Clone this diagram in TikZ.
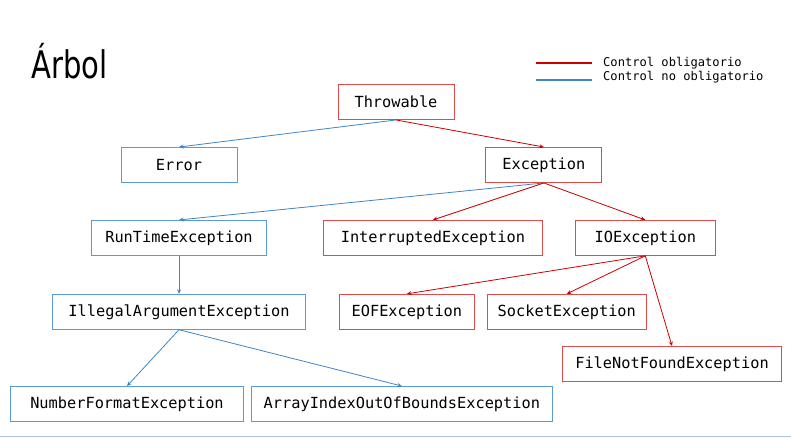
\documentclass[tikz,border=0pt]{standalone}
\usepackage{fontspec}
\usepackage{graphicx}
\setmonofont{DejaVu Sans Mono}
\newfontfamily\titlefont{DejaVu Sans Condensed}
\usepackage{tikz}
\usetikzlibrary{positioning, arrows.meta}
\definecolor{ctrlred}{HTML}{CC0000}
\definecolor{boxred}{HTML}{DD4B4B}
\definecolor{ctrlblue}{HTML}{3D85C6}
\definecolor{boxblue}{HTML}{5B9BD5}
\definecolor{slideline}{HTML}{A9C4E2}

\tikzset{
  classbox/.style={rectangle, minimum height=35pt, inner sep=0pt, line width=0.9pt,
    font=\ttfamily\fontsize{15.3}{18}\selectfont},
  checked/.style={classbox, draw=boxred},
  unchecked/.style={classbox, draw=boxblue},
  redarrow/.style={-{Stealth[length=4.5pt, width=4pt]}, ctrlred, line width=0.8pt},
  bluearrow/.style={-{Stealth[length=4.5pt, width=4pt]}, ctrlblue, line width=0.8pt},
  legendtext/.style={anchor=west, inner sep=0pt, font=\ttfamily\fontsize{12.1}{14}\selectfont}
}

\begin{document}
\begin{tikzpicture}[x=1pt, y=-1pt]
  \useasboundingbox (0,0) rectangle (791,438);
  \node[anchor=base west, inner sep=0pt] (title) at (31,79)
    {\titlefont\fontsize{38}{40}\selectfont\scalebox{0.85}[1]{Árbol}};
  % legend
  \node[legendtext] (legred) at (603,63) {Control obligatorio};
  \node[legendtext] (legblue) at (603,77) {Control no obligatorio};
  \coordinate (redA) at (536,63);
  \coordinate (redB) at (592,63);
  \coordinate (blueA) at (536,80);
  \coordinate (blueB) at (592,80);
  \draw[ctrlred, line width=1.2pt] (redA) -- (redB);
  \draw[ctrlblue, line width=1.2pt] (blueA) -- (blueB);
  % tree
  \node[checked, minimum width=116pt] (throwable) at (396,102) {Throwable};
  \node[unchecked, minimum width=116pt] (error) at (179,165) {Error};
  \node[checked, minimum width=116pt, right=248pt of error] (exception) {Exception};
  \node[unchecked, minimum width=175pt, below=37pt of error] (runtime) {RunTimeException};
  \node[checked, minimum width=219pt, right=56pt of runtime] (interrupted) {InterruptedException};
  \node[checked, minimum width=140pt, right=32pt of interrupted] (ioexc) {IOException};
  \node[unchecked, minimum width=253pt, below=38pt of runtime] (illegalarg) {IllegalArgumentException};
  \node[checked, minimum width=135pt, right=33pt of illegalarg] (eof) {EOFException};
  \node[checked, minimum width=159pt, right=12pt of eof] (socket) {SocketException};
  \node[checked, minimum width=219pt] (filenotfound) at (672,364) {FileNotFoundException};
  \node[unchecked, minimum width=233pt] (numberformat) at (127,404) {NumberFormatException};
  \node[unchecked, minimum width=301pt, right=7pt of numberformat] (arrayindex) {ArrayIndexOutOfBoundsException};
  % edges
  \draw[bluearrow] (throwable.south) -- (error.north);
  \draw[redarrow] (throwable.south) -- (exception.north);
  \draw[bluearrow] (exception.south) -- (runtime.north);
  \draw[redarrow] (exception.south) -- (interrupted.north);
  \draw[redarrow] (exception.south) -- (ioexc.north);
  \draw[bluearrow] (runtime) -- (illegalarg);
  \draw[redarrow] (ioexc.south) -- (eof.north);
  \draw[redarrow] (ioexc.south) -- (socket.north);
  \draw[redarrow] (ioexc.south) -- (filenotfound.north);
  \draw[bluearrow] (illegalarg.south) -- (numberformat.north);
  \draw[bluearrow] (illegalarg.south) -- (arrayindex.north);
  % slide edge
  \draw[slideline, line width=1.2pt] (0,436.5) -- (791,436.5);
\end{tikzpicture}
\end{document}
